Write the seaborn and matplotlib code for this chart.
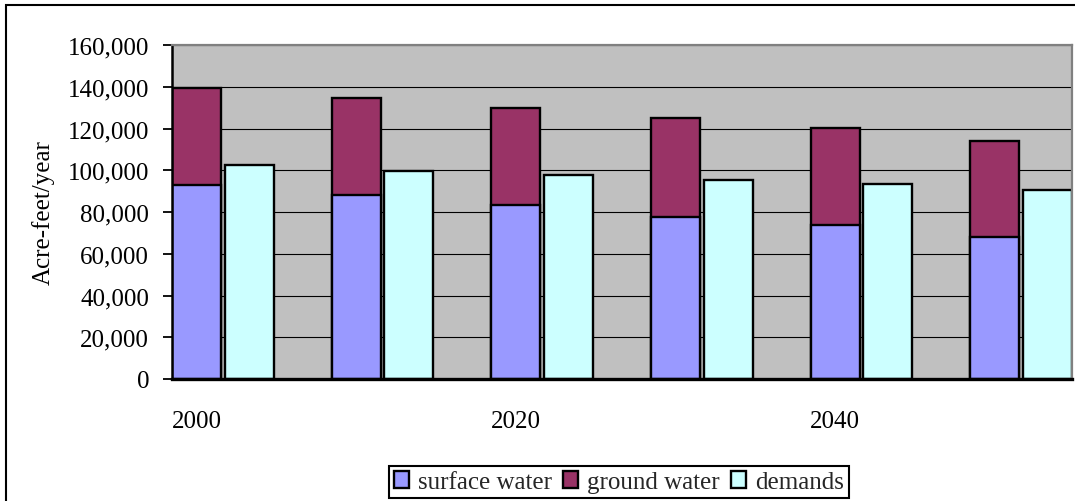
import numpy as np
import pandas as pd
import matplotlib
matplotlib.use("Agg")
import matplotlib.pyplot as plt
from matplotlib.patches import Rectangle
from matplotlib.ticker import FuncFormatter
import seaborn as sns

# Water supply and demand projections (acre-feet per year)
years = [2000, 2010, 2020, 2030, 2040, 2050]
surface_water = [93000, 88300, 83500, 77500, 73800, 67900]
ground_water = [46300, 46200, 46200, 47400, 46300, 46100]
demands = [102400, 99500, 97600, 95500, 93600, 90700]
y_ticks = [0, 20000, 40000, 60000, 80000, 100000, 120000, 140000, 160000]

sns.set_theme(style="white")
plt.rcParams["font.family"] = ["Liberation Serif", "DejaVu Serif"]

FS = 18
W, H = 1075, 502

df = pd.DataFrame({
    "year": years,
    "surface": surface_water,
    "ground": ground_water,
    "demands": demands,
})
df["supply"] = df["surface"] + df["ground"]
df["slot"] = np.arange(len(df), dtype=float)

bar_w = 0.307
demand_offset = 0.329

fig = plt.figure(figsize=(W / 100, H / 100), dpi=100)
ax = fig.add_axes([172 / W, 1 - 380 / H, 900 / W, 334 / H])
ax.set_facecolor("#C0C0C0")

common = dict(native_scale=True, width=bar_w, saturation=1, edgecolor="black",
              linewidth=1.7, errorbar=None, ax=ax)

# stacked supply: full height in ground-water colour, surface water drawn over it
sns.barplot(x=df["slot"], y=df["supply"], color="#993366", label="ground water", **common)
sns.barplot(x=df["slot"], y=df["surface"], color="#9999FF", label="surface water", **common)
sns.barplot(x=df["slot"] + demand_offset, y=df["demands"], color="#CCFFFF",
            label="demands", **common)
if ax.get_legend() is not None:
    ax.get_legend().remove()

ax.set_xlim(-bar_w / 2, df["slot"].iloc[-1] + demand_offset + bar_w / 2)
ax.set_ylim(y_ticks[0], y_ticks[-1])
ax.set_yticks(y_ticks)
ax.yaxis.set_major_formatter(FuncFormatter(lambda v, _: f"{int(v):,}"))
ax.set_xticks(df["slot"].iloc[::2])
ax.set_xticklabels([str(y) for y in df["year"].iloc[::2]])
ax.set_xlabel("")
ax.set_ylabel("")

ax.tick_params(axis="x", length=0, pad=22, labelsize=FS, colors="black")
ax.tick_params(axis="y", left=True, length=6.5, width=1.3, direction="out",
               pad=10, labelsize=FS, colors="black")

ax.set_axisbelow(True)
ax.yaxis.grid(True, color="black", linewidth=0.8)
ax.xaxis.grid(False)

for side in ("top", "right"):
    ax.spines[side].set_color("#808080")
    ax.spines[side].set_linewidth(1.6)
ax.spines["left"].set_color("black")
ax.spines["left"].set_linewidth(1.8)
ax.spines["bottom"].set_color("black")
ax.spines["bottom"].set_linewidth(2.4)

fig.text(43 / W, 1 - 213 / H, "Acre-feet/year", rotation=90, ha="center",
         va="center", fontsize=FS, color="black")

handles, labels = ax.get_legend_handles_labels()
lookup = dict(zip(labels, handles))
order = ["surface water", "ground water", "demands"]
leg = fig.legend([lookup[k] for k in order], order, loc="lower center",
                 bbox_to_anchor=(619 / W, 3 / H), ncol=3, frameon=True,
                 fancybox=False, edgecolor="black", framealpha=1, fontsize=FS,
                 handlelength=0.6, handleheight=0.7, handletextpad=0.35,
                 columnspacing=0.45, borderpad=0.2, borderaxespad=0)
leg.get_frame().set_linewidth(1.5)

# chart frame (open to the right and bottom edges)
fig.add_artist(Rectangle((6 / W, -0.5), 2, 0.5 + 1 - 6 / H, transform=fig.transFigure,
                         fill=False, edgecolor="black", linewidth=1.5))

fig.savefig("out.png", dpi=100)
